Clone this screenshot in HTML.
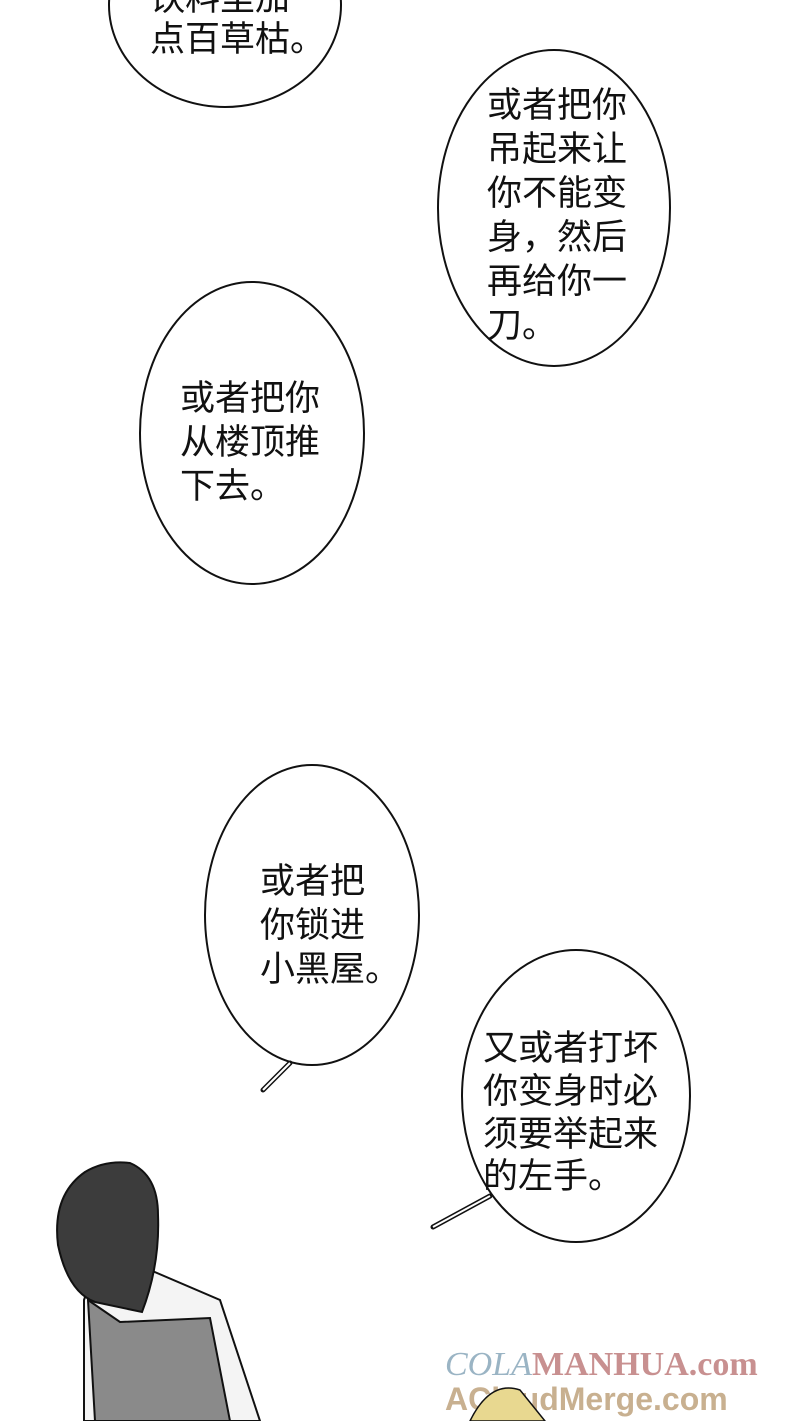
<!DOCTYPE html>
<html><head><meta charset="utf-8"><style>
html,body{margin:0;padding:0;background:#fff;}
svg text{font-family:"Liberation Sans","Noto Sans CJK SC",sans-serif;fill:#111;font-size:35px;}
</style></head><body>
<svg width="800" height="1421" viewBox="0 0 800 1421" xmlns="http://www.w3.org/2000/svg">
<rect width="800" height="1421" fill="#fff"/>
<g fill="#fff" stroke="#111" stroke-width="2">
<ellipse cx="225" cy="5" rx="116" ry="102"/>
<ellipse cx="554" cy="208" rx="116" ry="158"/>
<ellipse cx="252" cy="433" rx="112" ry="151"/>
<ellipse cx="312" cy="915" rx="107" ry="150"/>
<ellipse cx="576" cy="1096" rx="114" ry="146"/>
</g>
<g stroke="#111" stroke-width="5" fill="none" stroke-linecap="round"><path d="M290 1063 L263 1090"/><path d="M490 1196 L433 1227"/></g>
<g stroke="#fff" stroke-width="2" fill="none"><path d="M290 1063 L263 1090"/><path d="M490 1196 L433 1227"/></g>
<text x="150" y="10">饮料里加</text>
<text x="150" y="51">点百草枯。</text>
<text x="487" y="117">或者把你</text>
<text x="487" y="161">吊起来让</text>
<text x="487" y="205">你不能变</text>
<text x="487" y="249">身，然后</text>
<text x="487" y="293">再给你一</text>
<text x="487" y="337">刀。</text>
<text x="180" y="410">或者把你</text>
<text x="180" y="454">从楼顶推</text>
<text x="180" y="498">下去。</text>
<text x="260" y="893">或者把</text>
<text x="260" y="937">你锁进</text>
<text x="260" y="981">小黑屋。</text>
<text x="483" y="1060">又或者打坏</text>
<text x="483" y="1103">你变身时必</text>
<text x="483" y="1146">须要举起来</text>
<text x="483" y="1188">的左手。</text>
<!-- character -->
<path d="M84 1300 L90 1282 L150 1270 L220 1300 L260 1421 L84 1421 Z" fill="#f4f4f4" stroke="#111" stroke-width="2"/>
<path d="M88 1300 L120 1322 L210 1318 L230 1421 L95 1421 Z" fill="#8a8a8a" stroke="#111" stroke-width="2"/>
<path d="M58 1245 Q52 1195 85 1172 Q105 1160 130 1163 Q158 1175 158 1215 Q160 1265 142 1312 L95 1302 Q68 1292 58 1245 Z" fill="#3c3c3c" stroke="#111" stroke-width="2"/>
<!-- watermark -->
<text x="445" y="1375" style="font-size:34px;fill:#9ab4c4;font-family:'Liberation Serif',serif;font-style:italic">COLA</text>
<text x="532" y="1375" style="font-size:34px;fill:#c89090;font-family:'Liberation Serif',serif;font-weight:bold">MANHUA.com</text>
<text x="445" y="1410" style="font-size:32px;fill:#c8b090;font-weight:bold">ACloudMerge.com</text>
<path d="M470 1421 Q490 1380 520 1390 L545 1421 Z" fill="#e8d890" stroke="#111" stroke-width="1.5"/>
</svg>
</body></html>
